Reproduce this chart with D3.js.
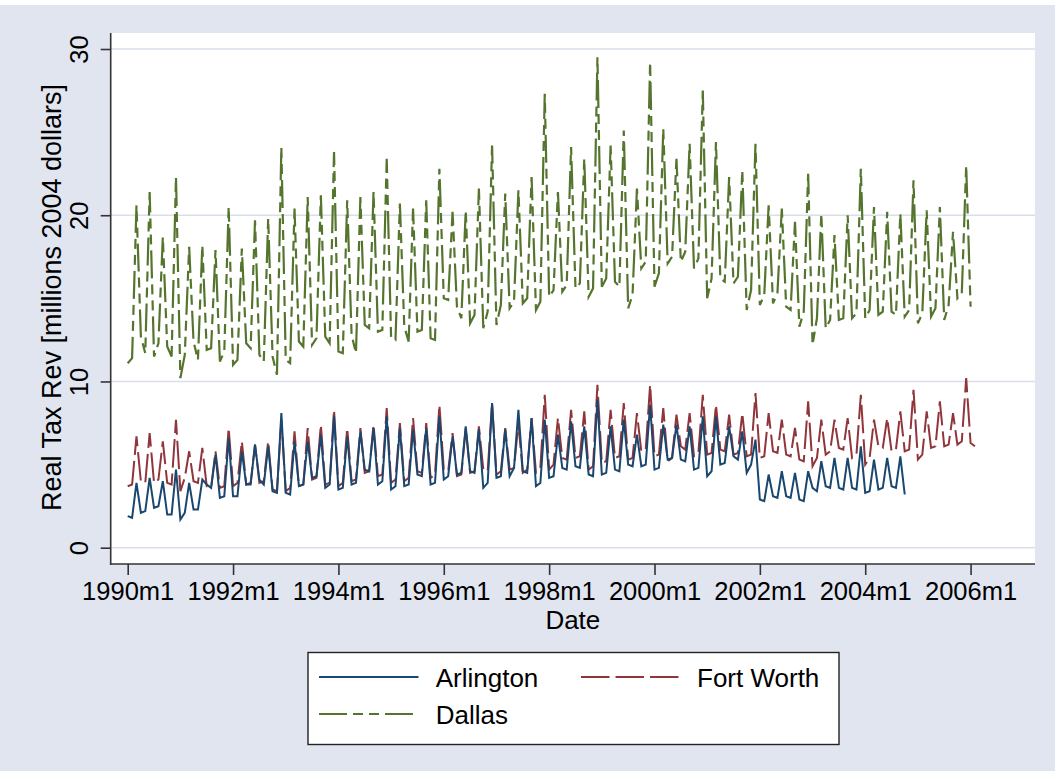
<!DOCTYPE html>
<html><head><meta charset="utf-8">
<script src="https://cdn.jsdelivr.net/npm/d3@7"></script>
<style>
body{margin:0;background:#fff}
svg{display:block}
text{font-family:"Liberation Sans",Arial,Helvetica,sans-serif;fill:#000}
</style>
</head><body>
<svg id="c" width="1055" height="771"></svg>
<script>
// ---- data (monthly, starting 1990m1 = index 0) ----
const tickMonths = [0, 24, 48, 72, 96, 120, 144, 168, 192];
const tickLabels = ["1990m1","1992m1","1994m1","1996m1","1998m1","2000m1","2002m1","2004m1","2006m1"];
const yTicks = [0, 10, 20, 30];
const seriesNames = ["Arlington", "Fort Worth", "Dallas"];

const arlington = [
  1.9,1.8,3.9, 2.1,2.2,4.2, 2.4,2.5,4.0, 2.0,2.0,4.7,   // 1990
  1.7,2.1,3.9, 2.3,2.3,4.1, 3.8,3.6,5.6, 3.0,3.1,6.6,   // 1991
  3.1,3.1,5.8, 3.8,3.8,6.2, 4.1,3.8,6.1, 3.4,3.3,8.1,   // 1992
  3.3,3.2,6.4, 3.7,3.8,6.4, 4.2,4.3,6.8, 3.6,3.8,7.9,   // 1993
  3.5,3.6,6.7, 3.8,3.9,7.0, 4.7,4.6,7.2, 3.8,4.0,7.9,   // 1994
  3.5,3.7,7.2, 3.7,3.8,7.1, 4.4,4.3,7.2, 3.8,3.9,7.9,   // 1995
  4.1,4.3,6.7, 4.4,4.5,7.3, 4.6,4.5,7.1, 3.6,3.9,8.7,   // 1996
  4.2,4.3,7.1, 4.3,4.8,8.3, 4.6,4.5,7.8, 3.7,3.9,7.7,   // 1997
  4.2,4.3,6.8, 4.8,4.7,7.6, 4.9,4.8,7.3, 4.4,4.3,8.9,   // 1998
  4.4,4.5,7.3, 4.7,4.6,7.7, 5.0,4.9,6.8, 4.9,5.0,8.6,   // 1999
  4.7,4.8,7.4, 5.3,5.4,7.4, 5.3,5.2,7.3, 4.7,4.8,7.9,   // 2000
  4.3,4.6,7.9, 5.0,5.1,7.3, 5.5,5.3,7.0, 4.5,5.0,6.5,   // 2001
  2.9,2.8,4.4, 3.1,3.0,4.6, 3.1,3.0,4.5, 2.9,2.8,4.6,   // 2002
  3.6,3.4,5.2, 3.7,3.6,5.4, 3.6,3.5,5.4, 3.6,3.5,6.1,   // 2003
  3.3,3.4,5.3, 3.5,3.6,5.4, 3.7,3.6,5.5, 3.2            // 2004
];

const fortWorth = [
  3.7,3.8,6.7, 4.0,3.9,6.9, 3.9,4.1,6.4, 3.9,3.8,7.7,   // 1990
  3.4,4.2,5.8, 4.0,3.9,6.0, 3.7,3.6,5.8, 3.6,3.7,7.2,   // 1991
  3.7,3.9,6.4, 3.8,3.9,6.2, 3.9,4.0,6.4, 3.5,3.4,7.7,   // 1992
  3.4,3.6,7.0, 3.7,3.8,7.2, 4.1,4.2,7.4, 3.8,3.9,8.3,   // 1993
  3.7,3.9,7.2, 4.0,4.1,7.2, 4.5,4.6,7.4, 4.3,4.4,8.4,   // 1994
  3.9,4.1,7.5, 4.0,4.2,7.8, 4.6,4.5,7.5, 4.2,4.4,8.6,   // 1995
  4.7,4.6,6.9, 4.3,4.4,7.2, 4.5,4.6,7.3, 4.7,4.6,8.7,   // 1996
  4.4,4.6,7.2, 4.7,4.8,7.5, 4.5,4.7,7.8, 4.5,4.8,9.2,   // 1997
  4.7,5.0,7.8, 5.4,5.3,8.3, 5.4,5.5,8.2, 4.7,4.9,9.8,   // 1998
  5.1,5.2,8.3, 5.4,5.5,8.7, 5.3,5.4,8.1, 5.8,5.9,9.8,   // 1999
  5.5,5.6,8.4, 5.2,5.4,8.0, 6.1,5.9,8.1, 5.5,5.7,9.2,   // 2000
  5.6,5.7,8.6, 5.9,5.8,8.0, 5.6,5.7,8.1, 5.5,5.6,9.3,   // 2001
  5.4,5.5,8.1, 5.8,5.7,7.7, 5.6,5.5,7.2, 5.3,5.2,8.8,   // 2002
  4.9,5.4,7.7, 5.6,5.8,7.7, 6.0,5.9,7.8, 5.4,5.6,9.2,   // 2003
  5.0,5.4,7.7, 6.1,6.0,7.8, 5.8,5.9,8.2, 5.8,5.9,9.5,   // 2004
  5.3,5.6,8.2, 6.0,6.1,8.8, 6.1,6.2,8.1, 6.2,6.4,10.2,  // 2005
  6.3,6.1                                               // 2006
];

const dallas = [
  11.1,11.4,20.6, 12.7,11.7,21.4, 11.5,12.3,18.7, 12.1,11.5,22.3,   // 1990
  10.2,11.6,18.1, 12.4,11.3,18.2, 11.9,12.0,17.9, 11.2,11.8,20.5,   // 1991
  11.0,11.3,18.0, 12.3,12.0,19.7, 11.6,11.2,19.8, 11.5,10.4,24.1,   // 1992
  11.3,11.1,20.4, 12.4,12.1,21.1, 12.2,12.6,21.2, 12.7,12.3,23.8,   // 1993
  11.8,11.7,20.9, 12.8,11.7,21.1, 13.4,13.2,21.4, 13.0,13.1,23.4,   // 1994
  12.6,12.5,20.7, 13.3,12.4,20.4, 13.0,13.1,20.9, 12.6,12.5,22.8,   // 1995
  15.0,14.9,20.2, 14.5,13.8,20.3, 13.5,14.0,21.6, 13.2,14.2,24.2,   // 1996
  13.4,14.6,21.3, 14.4,14.8,21.5, 14.7,15.0,22.3, 14.3,14.8,27.3,   // 1997
  15.1,15.5,21.4, 15.4,15.8,24.1, 15.6,15.9,23.4, 15.1,15.6,29.5,   // 1998
  15.7,16.2,24.2, 16.0,15.7,25.1, 14.4,15.2,21.6, 16.8,17.2,29.2,   // 1999
  15.7,16.5,25.2, 17.1,17.5,23.4, 17.2,17.8,24.3, 16.8,17.4,27.5,   // 2000
  15.0,16.2,24.4, 16.2,16.0,22.3, 15.9,16.3,22.7, 14.3,15.5,24.3,   // 2001
  14.6,15.2,20.6, 14.7,15.3,20.4, 14.5,14.3,19.6, 13.3,14.2,22.5,   // 2002
  12.2,13.8,20.1, 13.2,13.7,18.8, 13.7,13.8,20.0, 13.8,14.1,22.8,   // 2003
  13.8,14.3,20.5, 14.0,14.2,20.2, 14.2,14.0,20.1, 13.9,14.3,22.1,   // 2004
  13.5,14.1,20.3, 13.9,14.4,20.5, 13.7,14.6,19.0, 15.0,15.3,23.0,   // 2005
  14.5                                                              // 2006
];

// ---- drawing ----
const W = 1055, H = 771;
const plot = {left: 110.7, right: 1035, top: 33, bottom: 564};
const svg = d3.select("#c");

svg.append("rect").attr("width", W).attr("height", H).attr("fill", "#ffffff");
svg.append("rect").attr("x", 0).attr("y", 5).attr("width", W).attr("height", H - 5).attr("fill", "#e1e5ef");
svg.append("rect").attr("x", plot.left).attr("y", plot.top)
   .attr("width", plot.right - plot.left).attr("height", plot.bottom - plot.top).attr("fill", "#ffffff");

const x = d3.scaleLinear().domain([0, 192]).range([127.7, 127.7 + 4.39 * 192]);
const y = d3.scaleLinear().domain([0, 30]).range([547.7, 49]);

// gridlines
svg.append("g").selectAll("line").data(yTicks).join("line")
  .attr("x1", plot.left).attr("x2", plot.right)
  .attr("y1", d => y(d)).attr("y2", d => y(d))
  .attr("stroke", "#d9dfea").attr("stroke-width", 1.6);

// series
const series = [
  {name: seriesNames[0], data: arlington, color: "#1a476f", dash: null},
  {name: seriesNames[1], data: fortWorth, color: "#90353b", dash: "28.5,6"},
  {name: seriesNames[2], data: dallas, color: "#55752f", dash: "28,6,10,6,10,6"}
];
const line = d3.line().x((d, i) => x(i)).y(d => y(d));
const gLines = svg.append("g");
[series[2], series[1], series[0]].forEach(s => {
  gLines.append("path").datum(s.data).attr("d", line)
    .attr("fill", "none").attr("stroke", s.color).attr("stroke-width", s === series[2] ? 2.2 : 2)
    .attr("stroke-dasharray", s.dash);
});

// axes
const yAxis = d3.axisLeft(y).tickValues(yTicks).tickSize(10).tickPadding(0).tickFormat(d3.format("d"));
const gy = svg.append("g").attr("transform", `translate(${plot.left},0)`).call(yAxis);
gy.select(".domain").remove();
gy.append("line").attr("x1", 0).attr("x2", 0).attr("y1", plot.top).attr("y2", plot.bottom + 0.8)
  .attr("stroke", "#333").attr("stroke-width", 1.6);
gy.selectAll(".tick line").attr("stroke", "#333").attr("stroke-width", 1.6);
gy.selectAll(".tick text")
  .attr("x", null).attr("dy", null)
  .attr("transform", "translate(-23,0) rotate(-90)")
  .attr("text-anchor", "middle").attr("font-size", 25.5)
  .attr("font-family", "Liberation Sans, Arial, sans-serif").attr("fill", "#000");

const xAxis = d3.axisBottom(x).tickValues(tickMonths).tickSize(11).tickPadding(0)
  .tickFormat((d, i) => tickLabels[i]);
const gx = svg.append("g").attr("transform", `translate(0,${plot.bottom})`).call(xAxis);
gx.select(".domain").remove();
gx.append("line").attr("x1", plot.left - 0.8).attr("x2", plot.right).attr("y1", 0).attr("y2", 0)
  .attr("stroke", "#333").attr("stroke-width", 1.6);
gx.selectAll(".tick line").attr("stroke", "#333").attr("stroke-width", 1.6);
gx.selectAll(".tick text").attr("y", 36).attr("dy", null)
  .attr("font-size", 25.5).attr("font-family", "Liberation Sans, Arial, sans-serif").attr("fill", "#000");

// axis titles
svg.append("text").attr("x", (plot.left + plot.right) / 2).attr("y", 629)
  .attr("text-anchor", "middle").attr("font-size", 26).text("Date");
svg.append("text").attr("transform", `translate(60.5,${(plot.top + plot.bottom) / 2 - 1}) rotate(-90)`)
  .attr("text-anchor", "middle").attr("font-size", 27).text("Real Tax Rev [millions 2004 dollars]");

// legend
const lg = svg.append("g");
lg.append("rect").attr("x", 308).attr("y", 652.5).attr("width", 531).attr("height", 92)
  .attr("fill", "#fff").attr("stroke", "#222").attr("stroke-width", 1.4);
const legendPos = [
  {lx: 319, ly: 677, tx: 435.7, ty: 686.5},
  {lx: 581, ly: 677, tx: 697, ty: 686.5},
  {lx: 319, ly: 714, tx: 435.7, ty: 723.5}
];
series.forEach((s, i) => {
  const p = legendPos[i];
  lg.append("line").attr("x1", p.lx).attr("x2", p.lx + 99.5).attr("y1", p.ly).attr("y2", p.ly)
    .attr("stroke", s.color).attr("stroke-width", 2).attr("stroke-dasharray", s.dash);
  lg.append("text").attr("x", p.tx).attr("y", p.ty).attr("font-size", 26).text(s.name);
});
</script>
</body></html>
